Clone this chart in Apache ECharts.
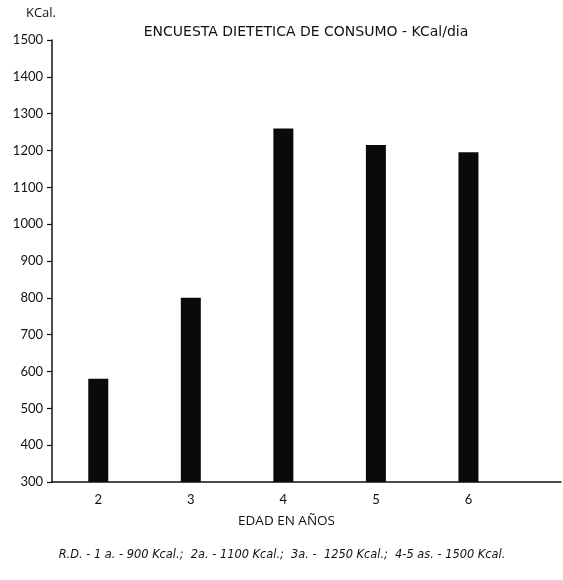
<!DOCTYPE html>
<html><head><meta charset="utf-8">
<script src="https://cdn.jsdelivr.net/npm/echarts@6/dist/echarts.min.js"></script>
<style>html,body{margin:0;padding:0;background:#fff}#c{width:563px;height:580px}</style>
</head><body><div id="c"></div>
<script>
const ages = [2, 3, 4, 5, 6];
const kcal = [580, 800, 1260, 1215, 1195];
const yTicks = [300, 1500, 100]; // min, max, interval
const titleText = 'ENCUESTA DIETETICA DE CONSUMO - KCal/dia';
const yName = 'KCal.';
const xName = 'EDAD EN AÑOS';
const footer = 'R.D. - 1 a. - 900 Kcal.;  2a. - 1100 Kcal.;  3a. -  1250 Kcal.;  4-5 as. - 1500 Kcal.';

const font = 'Lato, "Open Sans", sans-serif';
const font2 = '"Open Sans", Lato, sans-serif';
const font3 = '"DejaVu Sans", "Open Sans", sans-serif';
const chart = echarts.init(document.getElementById('c'));
chart.setOption({
  backgroundColor: '#fff',
  animation: false,
  title: [
    { text: titleText, left: 301, top: 20, textAlign: 'center',
      textStyle: { fontFamily: font3, fontSize: 14, fontWeight: 'normal', color: '#111' } },
    { text: footer, left: 277, top: 545, textAlign: 'center',
      textStyle: { fontFamily: font3, fontSize: 11.4, fontStyle: 'italic', fontWeight: 'normal', color: '#111' } }
  ],
  grid: { left: 52, right: 2, top: 40, bottom: 98 },
  xAxis: {
    type: 'value', min: 1.5, max: 7,
    name: xName, nameLocation: 'middle', nameGap: 32,
    nameTextStyle: { fontFamily: font2, fontSize: 13.5, color: '#111', padding: [0, 40, 0, 0] },
    splitLine: { show: false },
    axisLine: { show: true, lineStyle: { color: '#111', width: 1.5 } },
    axisTick: { show: false },
    axisLabel: { customValues: ages, fontFamily: font, fontSize: 13, color: '#111', margin: 11 }
  },
  yAxis: {
    type: 'value', min: yTicks[0], max: yTicks[1], interval: yTicks[2],
    name: yName, nameLocation: 'end', nameGap: 20,
    nameTextStyle: { fontFamily: font2, fontSize: 13, color: '#111', align: 'center', padding: [0, 0, 0, -22] },
    splitLine: { show: false },
    axisLine: { show: true, lineStyle: { color: '#111', width: 1.5 } },
    axisTick: { show: true, inside: false, length: 5, lineStyle: { color: '#111', width: 1.2 } },
    axisLabel: { fontFamily: font, fontSize: 13, color: '#111', margin: 9, formatter: v => String(v) }
  },
  series: [{
    type: 'bar',
    barWidth: 20,
    itemStyle: { color: '#0a0a0a' },
    data: ages.map((a, i) => [a, kcal[i]])
  }]
});
</script></body></html>
